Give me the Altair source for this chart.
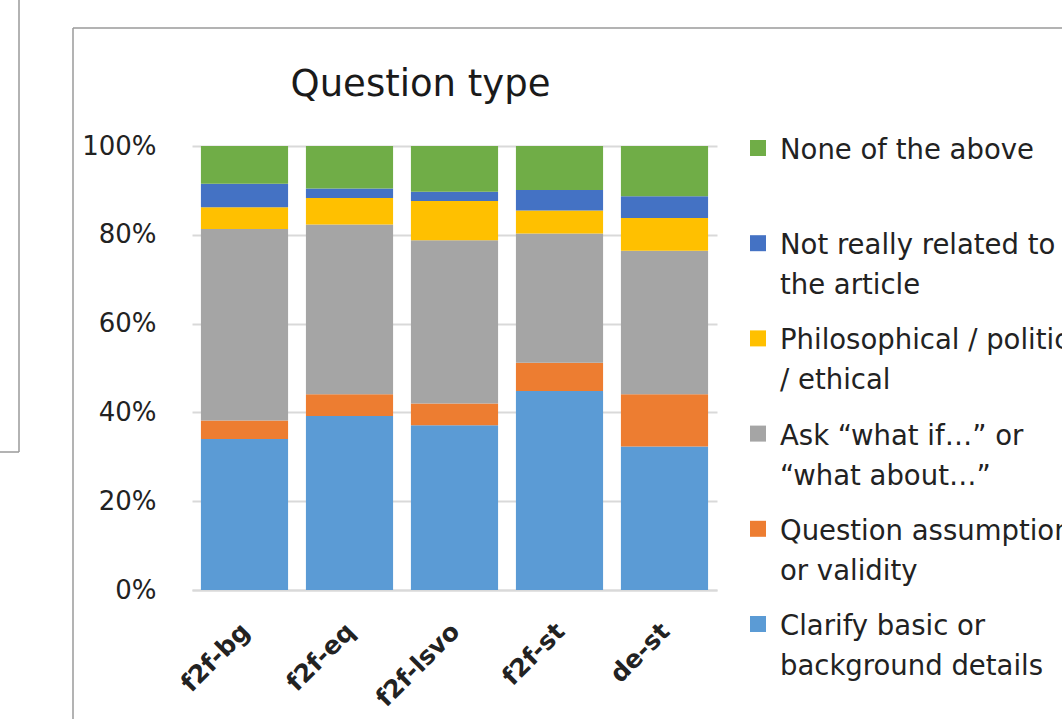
import altair as alt
import pandas as pd

# ---------------- data ----------------
chart_title = ["Question type"]
categories = ["f2f-bg", "f2f-eq", "f2f-lsvo", "f2f-st", "de-st"]

series_names = [
    "Clarify basic or background details",
    "Question assumptions or validity",
    "Ask “what if…” or “what about…”",
    "Philosophical / political / ethical",
    "Not really related to the article",
    "None of the above",
]
legend_labels = [
    "Clarify basic or|background details",
    "Question assumptions|or validity",
    "Ask “what if…” or|“what about…”",
    "Philosophical / political|/ ethical",
    "Not really related to|the article",
    "None of the above",
]
colors = ["#5B9BD5", "#ED7D31", "#A5A5A5", "#FFC000", "#4472C4", "#70AD47"]

clarify = [34.0, 39.2, 37.1, 44.8, 32.3]
question = [4.2, 4.9, 4.9, 6.4, 11.8]
ask = [43.1, 38.2, 36.8, 29.1, 32.3]
philosophical = [4.9, 6.0, 8.8, 5.2, 7.4]
not_related = [5.3, 2.1, 2.1, 4.6, 4.9]
none_above = [8.5, 9.6, 10.3, 9.9, 11.3]

series_values = [clarify, question, ask, philosophical, not_related, none_above]

rows = []
for i, (name, vals) in enumerate(zip(series_names, series_values)):
    for cat, v in zip(categories, vals):
        rows.append({"category": cat, "series": name, "value": v, "idx": i})
bars_df = pd.DataFrame(rows)

legend_df = pd.DataFrame({"series": series_names, "label": legend_labels})
legend_order = list(reversed(series_names))
title_df = pd.DataFrame({"title": chart_title})

FONT = "DejaVu Sans"
TXT = "#222222"
GRID = "#d9d9d9"
FRAME = "#9a9a9a"

color_scale = alt.Scale(domain=series_names, range=colors)

# ---------------- bars ----------------
bars = alt.Chart(bars_df).mark_bar().encode(
    x=alt.X(
        "category:N",
        sort=categories,
        scale=alt.Scale(paddingInner=0.17, paddingOuter=0.085),
        axis=alt.Axis(
            title=None,
            labelAngle=-45,
            labelAlign="right",
            labelBaseline="middle",
            labelPadding=37,
            labelOffset=1,
            labelFont=FONT,
            labelFontSize=25,
            labelFontWeight="bold",
            labelColor=TXT,
            ticks=False,
            domainColor=GRID,
            domainWidth=2,
        ),
    ),
    y=alt.Y(
        "value:Q",
        stack="normalize",
        scale=alt.Scale(domain=[0, 1]),
        axis=alt.Axis(
            title=None,
            format="%",
            values=[0, 0.2, 0.4, 0.6, 0.8, 1.0],
            labelFont=FONT,
            labelFontSize=26,
            labelColor=TXT,
            labelPadding=36,
            domain=False,
            ticks=False,
            gridColor=GRID,
            gridWidth=2,
        ),
    ),
    color=alt.Color("series:N", scale=color_scale, legend=None),
    order=alt.Order("idx:Q", sort="ascending"),
)

# ---------------- manual legend ----------------
legend_y = alt.Y(
    "series:N",
    sort=legend_order,
    scale=alt.Scale(type="point", range=[2, 478], padding=0),
    axis=None,
)

legend_squares = alt.Chart(legend_df).mark_square(size=256, opacity=1).encode(
    x=alt.value(566),
    y=legend_y,
    color=alt.Color("series:N", scale=color_scale, legend=None),
)

legend_text = alt.Chart(legend_df).mark_text(
    align="left",
    baseline="top",
    dy=-11,
    lineBreak="|",
    lineHeight=40,
    font=FONT,
    fontSize=27.5,
    color=TXT,
).encode(
    x=alt.value(588),
    y=legend_y,
    text="label:N",
)

# ---------------- title ----------------
title = alt.Chart(title_df).mark_text(
    align="center",
    baseline="alphabetic",
    font=FONT,
    fontSize=37,
    color="#1a1a1a",
).encode(
    x=alt.value(228.5),
    y=alt.value(-50),
    text="title:N",
)

# ---------------- frames (decoration) ----------------
frame_df = pd.DataFrame({"k": [0]})
frame_v = alt.Chart(frame_df).mark_rule(color=FRAME, strokeWidth=1.5).encode(
    x=alt.value(-119), y=alt.value(-118), y2=alt.value(600)
)
frame_h = alt.Chart(frame_df).mark_rule(color=FRAME, strokeWidth=1.5).encode(
    y=alt.value(-118), x=alt.value(-119), x2=alt.value(900)
)
side_v = alt.Chart(frame_df).mark_rule(color=FRAME, strokeWidth=1.5).encode(
    x=alt.value(-173), y=alt.value(-160), y2=alt.value(306)
)
side_h = alt.Chart(frame_df).mark_rule(color=FRAME, strokeWidth=1.5).encode(
    y=alt.value(306), x=alt.value(-200), x2=alt.value(-173)
)

chart = (
    alt.layer(frame_v, frame_h, side_v, side_h, bars, legend_squares, legend_text, title)
    .resolve_scale(y="independent")
    .properties(
        width=525,
        height=444,
        autosize=alt.AutoSizeParams(type="none"),
        padding={"left": 192, "top": 146, "right": 345, "bottom": 129},
        background="white",
    )
    .configure_view(strokeWidth=0)
)

chart.save("out.html", embed_options={"renderer": "svg", "actions": False})
